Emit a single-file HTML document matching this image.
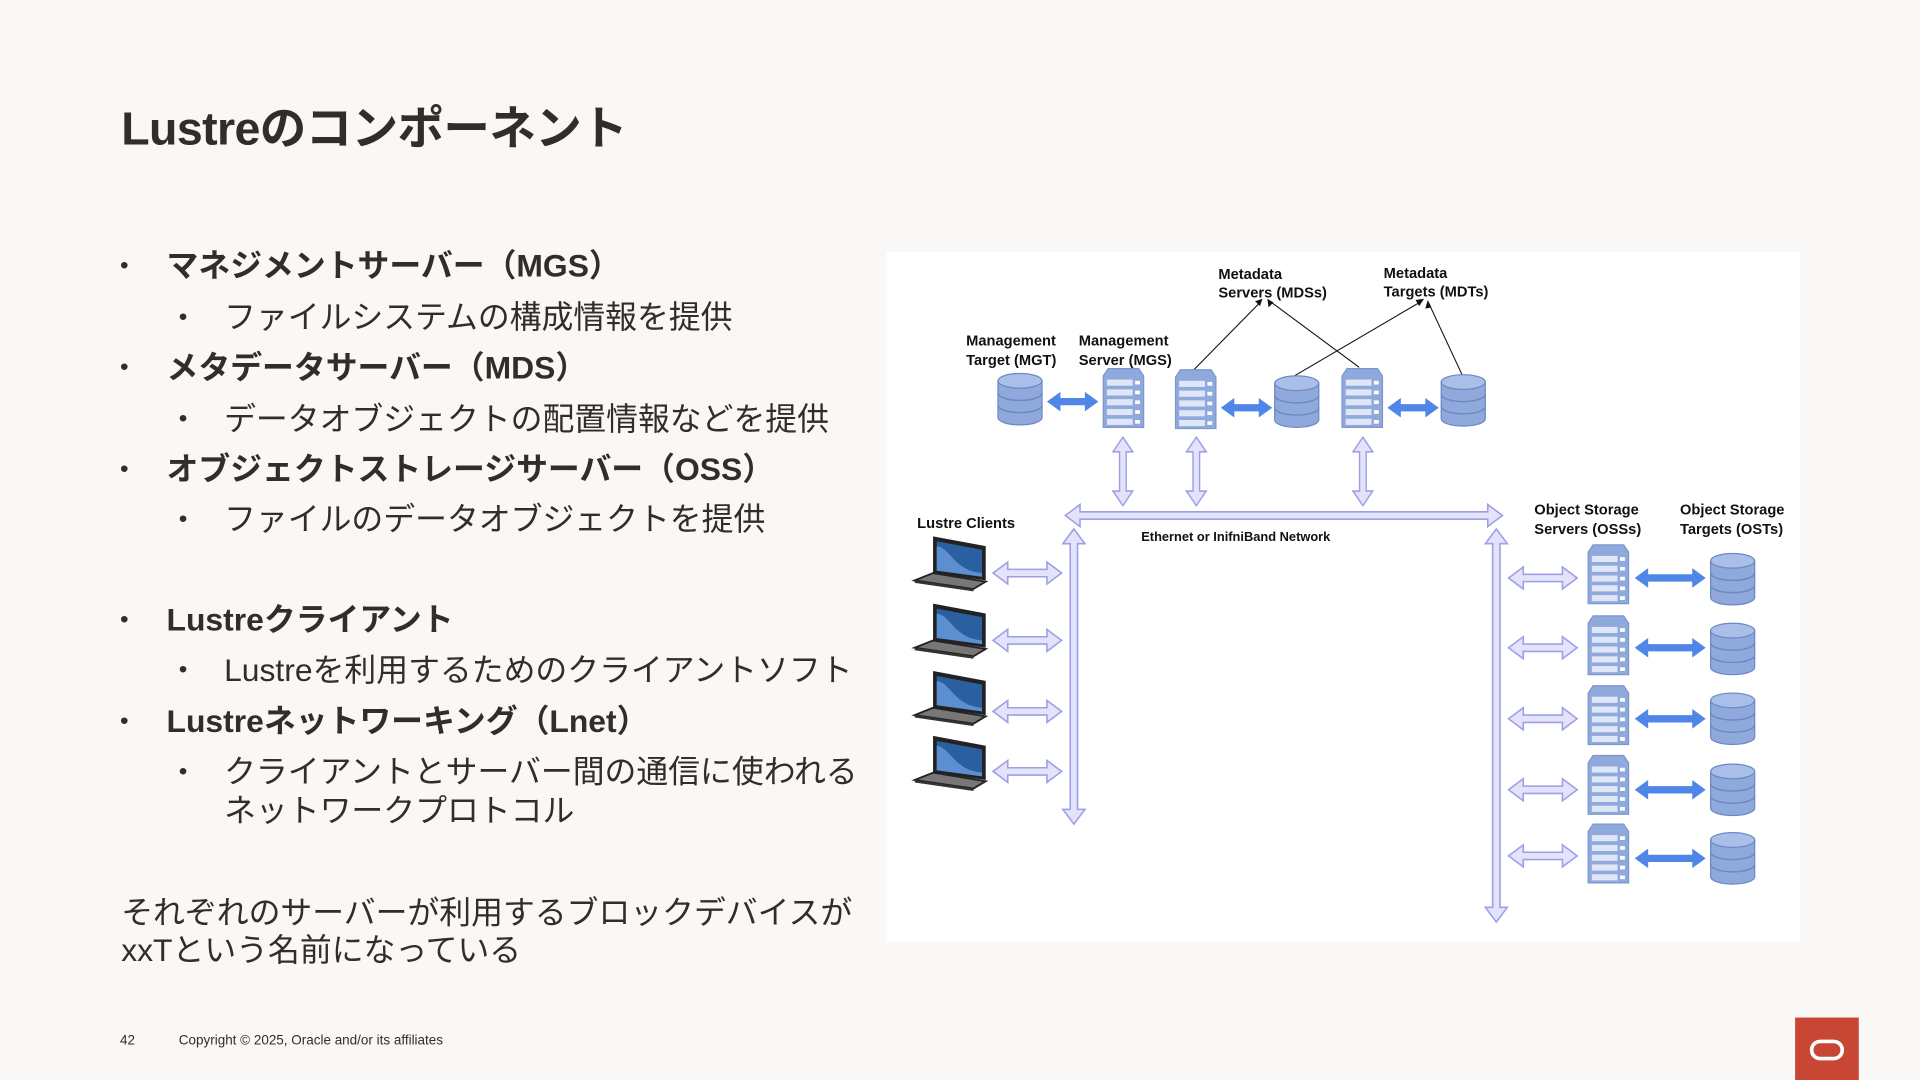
<!DOCTYPE html>
<html><head><meta charset="utf-8">
<style>
html,body{margin:0;padding:0;background:#f9f8f6;}
#wrap{width:1920px;height:1080px;overflow:hidden;position:relative;background:#f9f8f6;}
#pg{position:absolute;left:0;top:0;width:1568px;height:882px;transform:scale(1.22449);transform-origin:0 0;font-family:"Liberation Sans","Noto Sans CJK JP",sans-serif;color:#312d2a;}
.t{position:absolute;white-space:nowrap;}
.h1{font-size:26px;font-weight:bold;line-height:30px;}
.h2{font-size:26px;line-height:30px;}
.b{position:absolute;font-size:20px;line-height:30px;}
</style></head><body><div id="wrap"><div id="pg">
<div class="t" style="left:99px;top:74px;font-size:38px;font-weight:bold;letter-spacing:-0.5px;">Lustreのコンポーネント</div>

<div class="b" style="left:98px;top:202px">•</div><div class="t h1" style="left:136px;top:202px">マネジメントサーバー（MGS）</div>
<div class="b" style="left:146px;top:244px">•</div><div class="t h2" style="left:183px;top:244px">ファイルシステムの構成情報を提供</div>
<div class="b" style="left:98px;top:285px">•</div><div class="t h1" style="left:136px;top:285px">メタデータサーバー（MDS）</div>
<div class="b" style="left:146px;top:327px">•</div><div class="t h2" style="left:183px;top:327px">データオブジェクトの配置情報などを提供</div>
<div class="b" style="left:98px;top:368px">•</div><div class="t h1" style="left:136px;top:368px">オブジェクトストレージサーバー（OSS）</div>
<div class="b" style="left:146px;top:409px">•</div><div class="t h2" style="left:183px;top:409px">ファイルのデータオブジェクトを提供</div>
<div class="b" style="left:98px;top:491px">•</div><div class="t h1" style="left:136px;top:491px">Lustreクライアント</div>
<div class="b" style="left:146px;top:532px">•</div><div class="t h2" style="left:183px;top:532px">Lustreを利用するためのクライアントソフト</div>
<div class="b" style="left:98px;top:574px">•</div><div class="t h1" style="left:136px;top:574px">Lustreネットワーキング（Lnet）</div>
<div class="b" style="left:146px;top:615px">•</div><div class="t h2" style="left:183px;top:615px">クライアントとサーバー間の通信に使われる</div>
<div class="t h2" style="left:183px;top:647px">ネットワークプロトコル</div>
<div class="t h2" style="left:99px;top:730px">それぞれのサーバーが利用するブロックデバイスが</div>
<div class="t h2" style="left:99px;top:761px">xxTという名前になっている</div>

<div class="t" style="left:98px;top:844px;font-size:11px;">42</div>
<div class="t" style="left:146px;top:844px;font-size:11px;">Copyright © 2025, Oracle and/or its affiliates</div>
<div style="position:absolute;left:1466px;top:831px;width:52px;height:51px;background:#c74634;"></div>
<div style="position:absolute;left:1478px;top:849px;width:22px;height:11px;border:3.5px solid #fff;border-radius:9px;"></div>

<svg style="position:absolute;left:0;top:0" width="1568" height="882" viewBox="0 0 1568 882" font-family="Liberation Sans, sans-serif">
<defs>
<g id="cyl">
<path d="M0,6 L0,36 A18,6 0 0 0 36,36 L36,6 Z" fill="#8fa9dc" stroke="#6d89c4" stroke-width="1"/>
<ellipse cx="18" cy="6" rx="18" ry="6" fill="#a9bfe8" stroke="#6d89c4"/>
<path d="M0,16 A18,6 0 0 0 36,16 M0,26 A18,6 0 0 0 36,26" fill="none" stroke="#6d89c4" stroke-width="1.2"/>
</g>
<g id="srv">
<path d="M4,0 L29,0 L33,6 L33,48 L0,48 L0,6 Z" fill="#8fa9dc" stroke="#7d96cc"/>
<g fill="#dfe7f7">
<rect x="3" y="9" width="21" height="5"/><rect x="3" y="17" width="21" height="5"/><rect x="3" y="25" width="21" height="5"/><rect x="3" y="33" width="21" height="5"/><rect x="3" y="41" width="21" height="5"/>
</g>
<g fill="#fff"><rect x="26" y="10" width="4" height="3"/><rect x="26" y="18" width="4" height="3"/><rect x="26" y="26" width="4" height="3"/><rect x="26" y="34" width="4" height="3"/><rect x="26" y="42" width="4" height="3"/></g>
</g>
<g id="lap">
<path d="M15,0 L58,8 L58,36 L15,30 Z" fill="#222"/>
<path d="M18,4 L55,11 L55,33 L18,28 Z" fill="#2a5fa0"/>
<path d="M18,8 C30,10 32,28 55,30 L55,33 L18,28 Z" fill="#5b8fcf"/>
<path d="M0,36 L15,30 L58,37 L48,43 Z" fill="#777" stroke="#222" stroke-width="1.5"/>
<path d="M0,36 L48,43 L48,45 L0,38 Z" fill="#333"/>
</g>
<g id="lh"><polygon points="0,0 12,-9 12,-3 44,-3 44,-9 56,0 44,9 44,3 12,3 12,9" fill="#e3e3fb" stroke="#9f9fe6" stroke-width="1.3"/></g>
<g id="bh"><polygon points="0,0 11,-8 11,-3 31,-3 31,-8 42,0 31,8 31,3 11,3 11,8" fill="#4f86e8"/></g>
<g id="bh2"><polygon points="0,0 11,-8 11,-3 47,-3 47,-8 58,0 47,8 47,3 11,3 11,8" fill="#4f86e8"/></g>
</defs>
<rect x="724" y="206" width="746" height="563" fill="#fff"/>
<g font-size="12" font-weight="bold" fill="#111">
<text x="995" y="228">Metadata</text><text x="995" y="243">Servers (MDSs)</text>
<text x="1130" y="227">Metadata</text><text x="1130" y="242">Targets (MDTs)</text>
<text x="789" y="282">Management</text><text x="789" y="298">Target (MGT)</text>
<text x="881" y="282">Management</text><text x="881" y="298">Server (MGS)</text>
<text x="749" y="431">Lustre Clients</text>
<text x="1253" y="420">Object Storage</text><text x="1253" y="436">Servers (OSSs)</text>
<text x="1372" y="420">Object Storage</text><text x="1372" y="436">Targets (OSTs)</text>
<text x="932" y="442" font-size="10.5">Ethernet or InifniBand Network</text>
</g>
<g stroke="#111" stroke-width="0.9" fill="none">
<line x1="975" y1="302" x2="1030" y2="246"/><line x1="1110" y1="300" x2="1037" y2="246"/>
<line x1="1057" y1="307" x2="1161" y2="246"/><line x1="1194" y1="306" x2="1167" y2="248"/>
</g>
<g fill="#111"><polygon points="1031,244 1025,246 1029,250"/><polygon points="1035,244 1036,251 1040,247"/><polygon points="1163,244 1156,245 1159,250"/><polygon points="1166,245 1164,252 1169,251"/></g>
<use href="#cyl" x="815" y="305"/>
<use href="#srv" x="901" y="301"/>
<use href="#srv" x="960" y="302"/>
<use href="#cyl" x="1041" y="307"/>
<use href="#srv" x="1096" y="301"/>
<use href="#cyl" x="1177" y="306"/>
<use href="#bh" x="855" y="328"/>
<use href="#bh" x="997" y="333"/>
<use href="#bh" x="1133" y="333"/>
<use href="#lh" transform="translate(917,357) rotate(90) scale(1,0.9)"/>
<use href="#lh" transform="translate(977,357) rotate(90) scale(1,0.9)"/>
<use href="#lh" transform="translate(1113,357) rotate(90) scale(1,0.9)"/>
<polygon points="870,421 882,412 882,418 1215,418 1215,412 1227,421 1215,430 1215,424 882,424 882,430" fill="#e3e3fb" stroke="#9f9fe6" stroke-width="1.3"/>
<polygon points="877,432 886,444 880,444 880,661 886,661 877,673 868,661 874,661 874,444 868,444" fill="#e3e3fb" stroke="#9f9fe6" stroke-width="1.3"/>
<polygon points="1222,432 1231,444 1225,444 1225,741 1231,741 1222,753 1213,741 1219,741 1219,444 1213,444" fill="#e3e3fb" stroke="#9f9fe6" stroke-width="1.3"/>
<use href="#lap" x="747" y="438"/><use href="#lap" x="747" y="493"/><use href="#lap" x="747" y="548"/><use href="#lap" x="747" y="601"/>
<use href="#lh" x="811" y="468"/><use href="#lh" x="811" y="523"/><use href="#lh" x="811" y="581"/><use href="#lh" x="811" y="630"/>
<use href="#srv" x="1297" y="445"/><use href="#srv" x="1297" y="503"/><use href="#srv" x="1297" y="560"/><use href="#srv" x="1297" y="617"/><use href="#srv" x="1297" y="673"/>
<use href="#lh" x="1232" y="472"/><use href="#lh" x="1232" y="529"/><use href="#lh" x="1232" y="587"/><use href="#lh" x="1232" y="645"/><use href="#lh" x="1232" y="699"/>
<use href="#bh2" x="1335" y="472"/><use href="#bh2" x="1335" y="529"/><use href="#bh2" x="1335" y="587"/><use href="#bh2" x="1335" y="645"/><use href="#bh2" x="1335" y="701"/>
<use href="#cyl" x="1397" y="452"/><use href="#cyl" x="1397" y="509"/><use href="#cyl" x="1397" y="566"/><use href="#cyl" x="1397" y="624"/><use href="#cyl" x="1397" y="680"/>
</svg>
</div></div></body></html>
